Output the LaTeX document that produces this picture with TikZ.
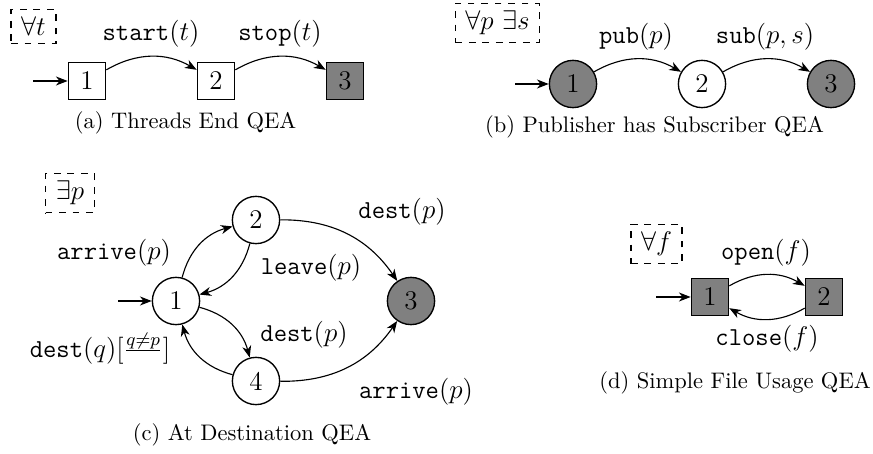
\documentclass[tikz,border=0pt]{standalone}
\usepackage{amsmath,amssymb}
\usepackage{tikz}
\usetikzlibrary{arrows.meta}
\usepackage{xcolor}
\definecolor{fstate}{gray}{0.5}

\begin{document}
\begin{tikzpicture}[x=0.4444pt, y=-0.4444pt,
  lbl/.style={font=\fontsize{11.5}{13}\selectfont},
  sqstate/.style={draw, semithick, minimum size=16.6pt, inner sep=0pt, font=\large},
  rdstate/.style={draw, semithick, circle, minimum size=21pt, inner sep=0pt, font=\large},
  accept/.style={fill=fstate},
  quant/.style={draw, dashed, semithick, inner xsep=4.5pt, inner ysep=3.4pt, font=\fontsize{11.5}{13}\selectfont},
  subcap/.style={font=\normalsize},
  trans/.style={line width=0.5pt, -{Stealth[length=5.2pt, width=4pt, inset=1.6pt]}}]
\useasboundingbox (0,0) rectangle (873,454);
% ---------------- panel (a): threads end ----------------
\node[quant] (qa) at (33.5,26.5) {$\forall t$};
\node[sqstate] (a1) at (87,81) {1};
\node[sqstate] (a2) at (216,81) {2};
\node[sqstate, accept] (a3) at (345,81) {3};
\coordinate (a0) at (33,81);
\draw[trans] (a0) -- (a1);
\draw[trans] (a1) to[bend left=30] (a2);
\draw[trans] (a2) to[bend left=30] (a3);
\node[lbl] (la1) at (151,34) {\texttt{start}$(t)$};
\node[lbl] (la2) at (280,34) {\texttt{stop}$(t)$};
\node[subcap] (capa) at (185.5,123) {(a) Threads End QEA};
% ---------------- panel (b): publisher / subscriber ----------------
\node[quant] (qb) at (497.5,23) {$\forall p\ \exists s$};
\node[rdstate, accept] (b1) at (573,84) {1};
\node[rdstate] (b2) at (702,84) {2};
\node[rdstate, accept] (b3) at (831,84) {3};
\coordinate (b0) at (515,84);
\draw[trans] (b0) -- (b1);
\draw[trans] (b1) to[bend left=30] (b2);
\draw[trans] (b2) to[bend left=30] (b3);
\node[lbl] (lb1) at (636,37) {\texttt{pub}$(p)$};
\node[lbl] (lb2) at (765,37) {\texttt{sub}$(p,s)$};
\node[subcap] (capb) at (654.5,127) {(b) Publisher has Subscriber QEA};
% ---------------- panel (c): at destination ----------------
\node[quant] (qc) at (70,193) {$\exists p$};
\node[rdstate] (c1) at (176,301) {1};
\node[rdstate] (c2) at (256,220) {2};
\node[rdstate, accept] (c3) at (411,301) {3};
\node[rdstate] (c4) at (256,381) {4};
\coordinate (c0) at (118,301);
\draw[trans] (c0) -- (c1);
\draw[trans] (c1) to[bend left=30] (c2);
\draw[trans] (c2) to[bend left=30] (c1);
\draw[trans] (c1) to[bend left=30] (c4);
\draw[trans] (c4) to[bend left=30] (c1);
\draw[trans] (c2) to[bend left=28] (c3);
\draw[trans] (c4) to[bend right=28] (c3);
\node[lbl] (lc1) at (114,253) {\texttt{arrive}$(p)$};
\node[lbl] (lc2) at (311,268) {\texttt{leave}$(p)$};
\node[lbl] (lc3) at (304,335) {\texttt{dest}$(p)$};
\node[lbl] (lc4) at (100,350) {\texttt{dest}$(q)[\frac{q\neq p}{}]$};
\node[lbl] (lc5) at (402,212) {\texttt{dest}$(p)$};
\node[lbl] (lc6) at (416,392) {\texttt{arrive}$(p)$};
\node[subcap] (capc) at (252,435) {(c) At Destination QEA};
% ---------------- panel (d): simple file usage ----------------
\node[quant] (qd) at (656.5,244) {$\forall f$};
\node[sqstate, accept] (d1) at (710,297) {1};
\node[sqstate, accept] (d2) at (824,297) {2};
\coordinate (d0) at (656,297);
\draw[trans] (d0) -- (d1);
\draw[trans] (d1) to[bend left=30] (d2);
\draw[trans] (d2) to[bend left=30] (d1);
\node[lbl] (ld1) at (766,253) {\texttt{open}$(f)$};
\node[lbl] (ld2) at (767,339) {\texttt{close}$(f)$};
\node[subcap] (capd) at (735,383) {(d) Simple File Usage QEA};
\end{tikzpicture}
\end{document}
